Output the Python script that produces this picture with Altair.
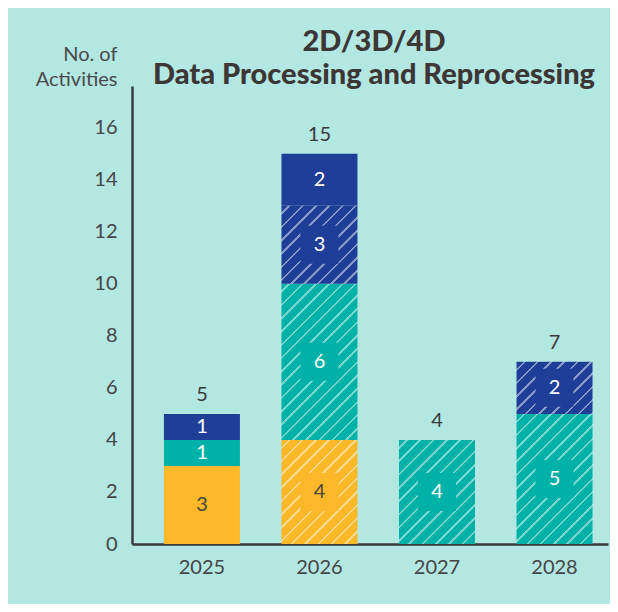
import math
import altair as alt
import pandas as pd

# ---------------- data ----------------
years = ["2025", "2026", "2027", "2028"]
seg_year = ["2025", "2025", "2025", "2026", "2026", "2026", "2026", "2027", "2028", "2028"]
seg_cat = ["Group A", "Group B", "Group C", "Group A", "Group B", "Group C", "Group C",
           "Group B", "Group B", "Group C"]
seg_hatched = [False, False, False, True, True, True, False, True, True, True]
seg_value = [3, 1, 1, 4, 6, 3, 2, 4, 5, 2]
y_ticks = [0, 2, 4, 6, 8, 10, 12, 14, 16]
categories = ["Group A", "Group B", "Group C"]
cat_colors = ["#FBB829", "#00B1A7", "#1F3E98"]

df = pd.DataFrame({
    "order": list(range(len(seg_value))),
    "year": seg_year,
    "cat": seg_cat,
    "hatched": seg_hatched,
    "value": seg_value,
})

# ---------------- styling ----------------
PLOT_W, PLOT_H = 476, 458
Y_MAX = 17.6
BAR_W = 76
BG = "#B3E7E2"
INK = "#3c3634"
FONT = "Lato"


def mix(c1, c2, t):
    a = [int(c1[i:i + 2], 16) for i in (1, 3, 5)]
    b = [int(c2[i:i + 2], 16) for i in (1, 3, 5)]
    return "#" + "".join(f"{round(x + (y - x) * t):02x}" for x, y in zip(a, b))


def hatch_fill(base, value, period=9.4, lw=1.8, angle=45):
    """Diagonal stripes as a linear gradient with hard stops."""
    W = BAR_W
    H = value * PLOT_H / Y_MAX
    a = math.radians(angle)
    gx, gy = W * math.sin(a), H * math.cos(a)
    lam = (gx + gy) / (gx * gx + gy * gy)
    D = W * math.sin(a) + H * math.cos(a)
    line = mix(base, "#ffffff", 0.47)
    stops = [{"offset": 0, "color": base}]
    pos = period * 0.6
    while pos - lw / 2 < D:
        s = max(0.0, (pos - lw / 2) / D)
        e = min(1.0, (pos + lw / 2) / D)
        stops += [{"offset": s, "color": base}, {"offset": s, "color": line},
                  {"offset": e, "color": line}, {"offset": e, "color": base}]
        pos += period
    stops.append({"offset": 1, "color": base})
    return {"gradient": "linear", "stops": stops,
            "x1": 0, "y1": 0, "x2": lam * gx, "y2": lam * gy}


color_of = dict(zip(categories, cat_colors))

x_enc = alt.X("year:N", sort=years,
              scale=alt.Scale(domain=years, paddingInner=0.35, paddingOuter=0.2, align=0.675),
              axis=alt.Axis(title=None, labelAngle=0, labelFontSize=20, labelFont=FONT,
                            labelColor="#454545", labelPadding=13, ticks=False,
                            domainColor="#3a3a3a", domainWidth=2.5))
y_scale = alt.Scale(domain=[0, Y_MAX], nice=False)
y_axis = alt.Axis(values=y_ticks, title=["No. of", "Activities"], titleAngle=0,
                  titleAlign="right", titleBaseline="alphabetic", titleX=-15, titleY=-26,
                  titleFontSize=20, titleFont=FONT, titleFontWeight="normal",
                  titleColor="#4a4a4a", titleLineHeight=25,
                  labelFontSize=20, labelFont=FONT, labelColor="#454545", labelPadding=15,
                  ticks=False, grid=False, domainColor="#3a3a3a", domainWidth=2.5)
color_scale = alt.Scale(domain=categories, range=cat_colors)

base = alt.Chart(df).transform_window(
    cum="sum(value)", groupby=["year"], sort=[alt.SortField("order")], frame=[None, 0]
).transform_calculate(
    y0="datum.cum - datum.value", mid="datum.cum - datum.value / 2"
)

layers = []
# solid segments
layers.append(
    base.transform_filter("!datum.hatched").mark_bar(width=BAR_W).encode(
        x=x_enc,
        y=alt.Y("cum:Q", scale=y_scale, axis=y_axis),
        y2="y0:Q",
        color=alt.Color("cat:N", scale=color_scale, legend=None),
    )
)
# hatched segments, one gradient each
for i in range(len(seg_value)):
    if not seg_hatched[i]:
        continue
    layers.append(
        base.transform_filter(f"datum.order == {i}").mark_bar(
            width=BAR_W, fill=hatch_fill(color_of[seg_cat[i]], seg_value[i])
        ).encode(x=x_enc, y=alt.Y("cum:Q", scale=y_scale, axis=y_axis), y2="y0:Q")
    )
# solid label boxes on hatched segments
layers.append(
    base.transform_filter("datum.hatched").mark_square(size=38 * 38, opacity=1).encode(
        x=x_enc, y=alt.Y("mid:Q", scale=y_scale),
        color=alt.Color("cat:N", scale=color_scale, legend=None),
    )
)
# segment labels
layers.append(
    base.mark_text(fontSize=20, font=FONT, baseline="middle").encode(
        x=x_enc, y=alt.Y("mid:Q", scale=y_scale), text="value:Q",
        color=alt.condition(alt.datum.cat == "Group A", alt.value("#4a4540"), alt.value("white")),
    )
)
# totals
layers.append(
    alt.Chart(df).transform_aggregate(total="sum(value)", groupby=["year"]).mark_text(
        fontSize=20, font=FONT, baseline="alphabetic", dy=-13, color="#3a3a3a"
    ).encode(x=x_enc, y=alt.Y("total:Q", scale=y_scale), text="total:Q")
)

chart = alt.layer(*layers).properties(
    width=PLOT_W, height=PLOT_H,
    autosize="none",
    padding={"left": 124, "top": 78, "right": 2, "bottom": 60},
    background=BG,
    title=alt.TitleParams(["2D/3D/4D", "Data Processing and Reprocessing"],
                          fontSize=29, font=FONT, fontWeight=900, color=INK,
                          lineHeight=33, anchor="middle", dx=4, offset=-46),
).configure_view(stroke=None)

chart.save("out.html", embed_options={"renderer": "svg", "actions": False})
